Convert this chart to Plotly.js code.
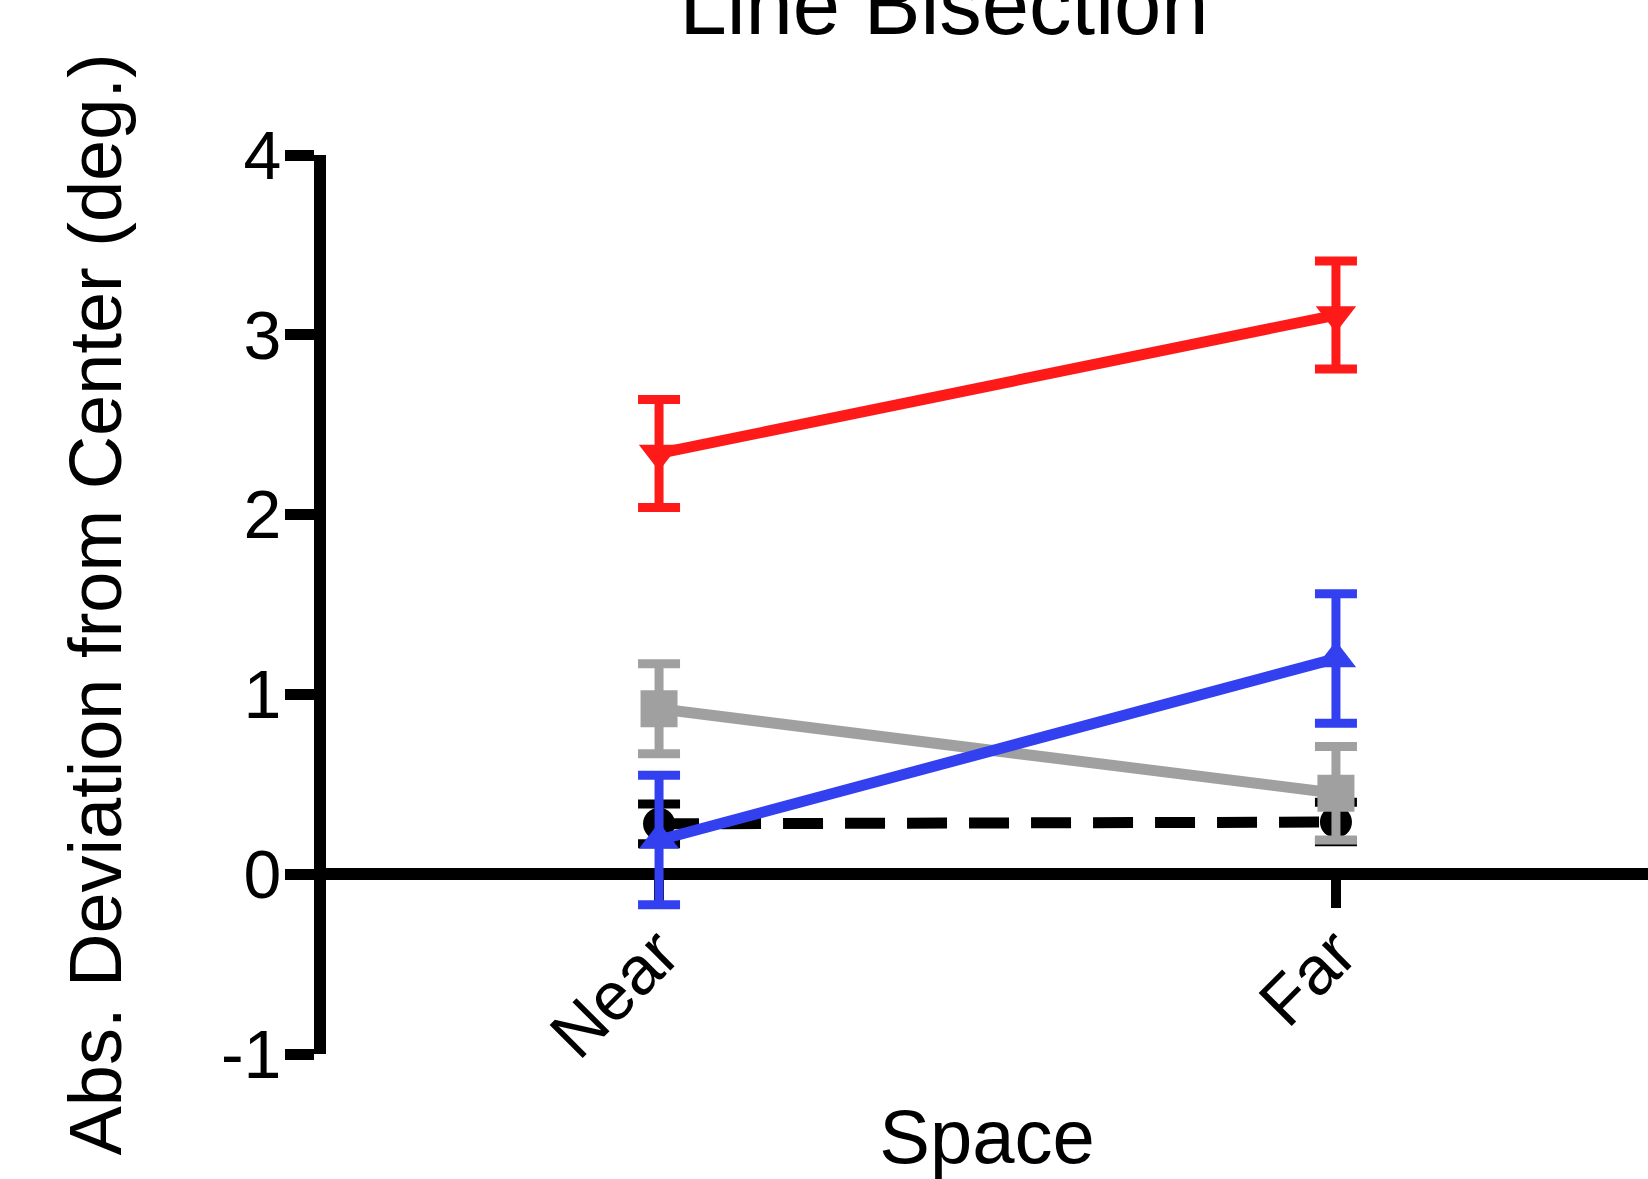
<!DOCTYPE html>
<html>
<head>
<meta charset="utf-8">
<script src="https://cdn.plot.ly/plotly-3.0.1.min.js"></script>
<style>html,body{margin:0;padding:0;background:#fff;}#chart{width:1648px;height:1179px;}</style>
</head>
<body>
<div id="chart"></div>
<script>
// Data
const categories = ['Near', 'Far'];
const redValues = [2.34, 3.11];
const redErrors = [0.30, 0.30];
const grayValues = [0.92, 0.45];
const grayErrors = [0.25, 0.26];
const blueValues = [0.19, 1.20];
const blueErrors = [0.36, 0.36];
const blackValues = [0.28, 0.29];
const blackErrors = [0.11, 0.11];
const yTicks = [-1, 0, 1, 2, 3, 4];
const yTickText = ['-1', '0', '1', '2', '3', '4'];

const FONT = 'Liberation Sans, Arial, Helvetica, sans-serif';

function series(name, values, errors, color, symbol, size, dash) {
  return {
    type: 'scatter', mode: 'lines+markers', name: name,
    x: categories, y: values,
    line: {color: color, width: 11, dash: dash || 'solid'},
    marker: {color: color, symbol: symbol, size: size},
    error_y: {type: 'data', array: errors, visible: true, color: color, thickness: 9, width: 21},
    cliponaxis: false
  };
}

const data = [
  series('Black', blackValues, blackErrors, '#000000', 'circle', 32, '40px,22px'),
  series('Gray', grayValues, grayErrors, '#a0a0a0', 'square', 37),
  series('Blue', blueValues, blueErrors, '#3340f0', 'triangle-up', 35),
  series('Red', redValues, redErrors, '#ff1a1a', 'triangle-down', 35)
];

const layout = {
  width: 1648, height: 1179,
  paper_bgcolor: '#ffffff', plot_bgcolor: '#ffffff',
  showlegend: false,
  font: {family: FONT, color: '#000000'},
  margin: {l: 326, r: 0, t: 155, b: 125, pad: 0},
  title: {
    text: 'Line Bisection',
    font: {family: FONT, size: 85, color: '#000000'},
    x: 944 / 1648, xanchor: 'center', xref: 'container',
    y: 1 - 34 / 1179, yanchor: 'bottom', yref: 'container'
  },
  xaxis: {
    type: 'category',
    range: [-0.492, 1.461],
    anchor: 'free', position: 0.2,
    layer: 'below traces',
    showline: true, linecolor: '#000000', linewidth: 12,
    showgrid: false, zeroline: false,
    ticks: 'outside', ticklen: 28, tickwidth: 10, tickcolor: '#000000',
    tickangle: -45, ticklabelstandoff: -22,
    tickfont: {family: FONT, size: 68, color: '#000000'},
    title: {text: 'Space', font: {family: FONT, size: 76, color: '#000000'}, standoff: 60},
    automargin: false
  },
  yaxis: {
    range: [-1, 4],
    tickvals: yTicks, ticktext: yTickText,
    showline: true, linecolor: '#000000', linewidth: 12,
    showgrid: false, zeroline: false,
    ticks: 'outside', ticklen: 29, tickwidth: 11, tickcolor: '#000000',
    ticklabelstandoff: -10,
    tickfont: {family: FONT, size: 68, color: '#000000'},
    title: {text: 'Abs. Deviation from Center (deg.)', font: {family: FONT, size: 74, color: '#000000'}, standoff: 80},
    automargin: false
  }
};

Plotly.newPlot('chart', data, layout, {displayModeBar: false, staticPlot: true});
</script>
</body>
</html>
